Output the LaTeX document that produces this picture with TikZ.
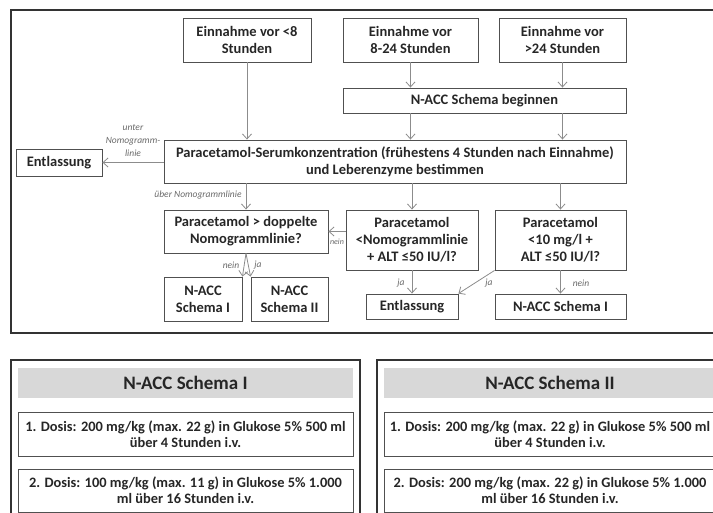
\documentclass[tikz,border=0pt]{standalone}
\usepackage{fontspec}
\setmainfont{Carlito}
\usetikzlibrary{arrows.meta}
\definecolor{boxline}{RGB}{80,80,80}
\definecolor{arrline}{RGB}{140,140,140}
\definecolor{labtext}{RGB}{105,105,105}
\definecolor{headfill}{RGB}{216,216,216}
\begin{document}
\begin{tikzpicture}[x=1pt,y=-1pt,
    box/.style={draw=boxline,line width=0.9pt,align=center,inner sep=1pt,
      font=\fontsize{14.5}{17}\selectfont\bfseries,text=black!85},
    arr/.style={draw=arrline,line width=0.8pt,-{Straight Barb[length=5pt,width=9pt]}},
    lab/.style={align=center,inner sep=1pt,font=\fontsize{9.5}{13}\selectfont\itshape,text=labtext},
    frame/.style={draw=black!80,line width=1.3pt},
    head/.style={fill=headfill,inner sep=0pt,font=\fontsize{19}{20}\selectfont\bfseries,text=black!85},
    dose/.style={draw=boxline,line width=1pt,align=center,inner sep=1pt,
      font=\fontsize{14.4}{16}\selectfont\bfseries,text=black!85}]
  \useasboundingbox (0,0) rectangle (713,513);
  \clip (0,0) rectangle (713,513);

  % flow chart
  \draw[frame] (11,10) rectangle (730,333);
  \node[box,minimum width=128pt,minimum height=44pt] (in8)   at (247,40)    {Einnahme vor <8\\Stunden};
  \node[box,minimum width=135pt,minimum height=44pt] (in24)  at (410.5,40)  {Einnahme vor\\8-24 Stunden};
  \node[box,minimum width=127pt,minimum height=44pt] (inlate) at (562.5,40) {Einnahme vor\\>24 Stunden};
  \node[box,minimum width=283pt,minimum height=25pt] (start) at (484.5,100.5) {N-ACC Schema beginnen};
  \node[box,minimum width=462pt,minimum height=43pt] (serum) at (395,161.5)
    {Paracetamol-Serumkonzentration (frühestens 4 Stunden nach Einnahme)\\und Leberenzyme bestimmen};
  \node[box,minimum width=86pt,minimum height=27pt]  (outA)  at (59,162.5)  {Entlassung};
  \node[box,minimum width=164pt,minimum height=43pt] (double) at (246,231.5) {Paracetamol > doppelte\\Nomogrammlinie?};
  \node[box,minimum width=132pt,minimum height=60pt] (nomo)  at (412,240)   {Paracetamol\\<Nomogrammlinie\\+ ALT ≤50 IU/l?};
  \node[box,minimum width=131pt,minimum height=60pt] (low)   at (560.5,240) {Paracetamol\\<10 mg/l +\\ALT ≤50 IU/l?};
  \node[box,minimum width=78pt,minimum height=44pt]  (schA)  at (203,299)   {N-ACC\\Schema I};
  \node[box,minimum width=77pt,minimum height=44pt]  (schB)  at (289.5,299) {N-ACC\\Schema II};
  \node[box,minimum width=92pt,minimum height=25pt]  (outB)  at (412,306.5) {Entlassung};
  \node[box,minimum width=131pt,minimum height=25pt] (schC)  at (560.5,306.5) {N-ACC Schema I};

  \draw[arr] (in8.south) -- (in8.south |- serum.north);
  \draw[arr] (in24.south) -- (in24.south |- start.north);
  \draw[arr] (inlate.south) -- (inlate.south |- start.north);
  \draw[arr] (start.south -| in24) -- (serum.north -| in24);
  \draw[arr] (start.south -| inlate) -- (serum.north -| inlate);
  \draw[arr] (serum.west |- outA) -- (outA.east);
  \draw[arr] (serum.south -| double) -- (double.north);
  \draw[arr] (serum.south -| nomo) -- (nomo.north);
  \draw[arr] (serum.south -| low) -- (low.north);
  \draw[arr] (nomo.west |- double) -- (double.east);
  \draw[arr] (double.south) -- (schA.north east);
  \draw[arr] (double.south) -- (schB.north west);
  \draw[arr] (nomo.south) -- (outB.north);
  \draw[arr] (low.south west) -- (outB.north east);
  \draw[arr] (low.south) -- (schC.north);

  \node[lab] (lunder) at (133,141) {unter\\Nomogramm-\\linie};
  \node[lab] (lover)  at (198,195) {über Nomogrammlinie};
  \node[lab,font=\fontsize{8}{9}\selectfont\itshape] (lno1) at (337,242) {nein};
  \node[lab] (lno2)  at (231,265) {nein};
  \node[lab] (lyes1) at (258,265) {ja};
  \node[lab] (lyes2) at (401,283) {ja};
  \node[lab] (lyes3) at (489,283) {ja};
  \node[lab] (lno3)  at (581,283) {nein};

  % dosage schemes
  \draw[frame] (11,360) rectangle (360,530);
  \node[head,minimum width=335pt,minimum height=30pt] (headA) at (185.5,383) {N-ACC Schema I};
  \node[dose,minimum width=335pt,minimum height=44pt] (doseA1) at (185.5,434)
    {1. Dosis: 200 mg/kg (max. 22 g) in Glukose 5\% 500 ml\\über 4 Stunden i.v.};
  \node[dose,minimum width=335pt,minimum height=43pt] (doseA2) at (185.5,490.5)
    {2. Dosis: 100 mg/kg (max. 11 g) in Glukose 5\% 1.000\\ml über 16 Stunden i.v.};

  \draw[frame] (377,360) rectangle (724,530);
  \node[head,minimum width=332pt,minimum height=30pt] (headB) at (550,383) {N-ACC Schema II};
  \node[dose,minimum width=332pt,minimum height=44pt] (doseB1) at (550,434)
    {1. Dosis: 200 mg/kg (max. 22 g) in Glukose 5\% 500 ml\\über 4 Stunden i.v.};
  \node[dose,minimum width=332pt,minimum height=43pt] (doseB2) at (550,490.5)
    {2. Dosis: 200 mg/kg (max. 22 g) in Glukose 5\% 1.000\\ml über 16 Stunden i.v.};
\end{tikzpicture}
\end{document}
